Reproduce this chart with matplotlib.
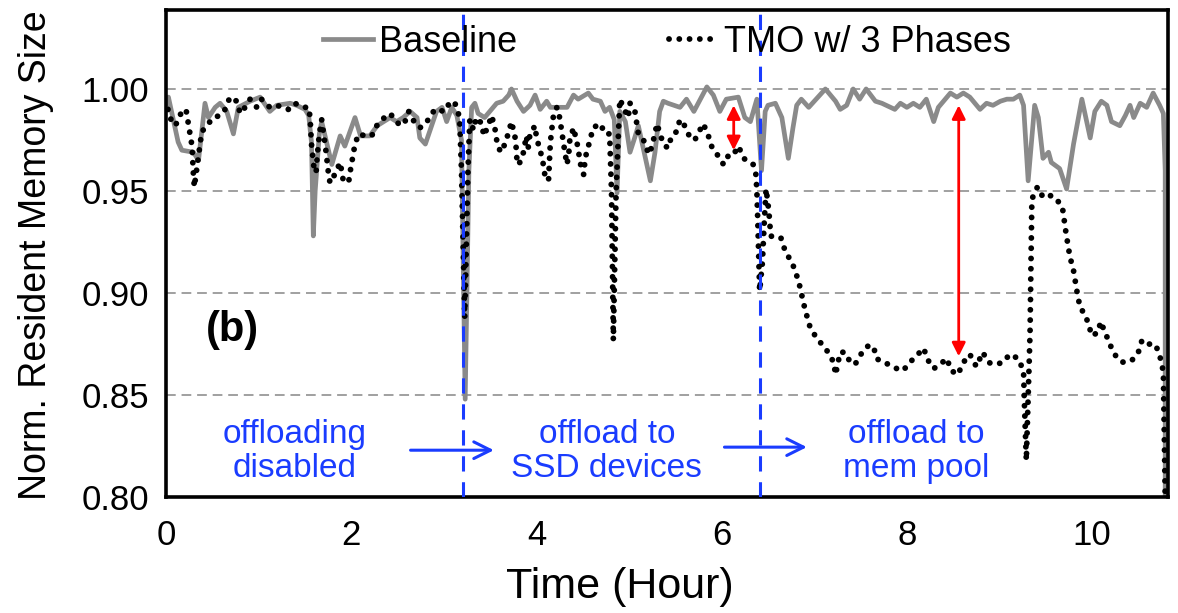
import matplotlib
matplotlib.use("Agg")
import matplotlib.pyplot as plt

plt.rcParams['font.family'] = ['Liberation Sans', 'DejaVu Sans']

# Baseline (gray solid line)
base_t = [0.0, 0.025, 0.13, 0.17, 0.295, 0.35, 0.42, 0.457, 0.53, 0.583, 0.655, 0.727, 0.78,
          0.907, 1.015, 1.12, 1.195, 1.34, 1.41, 1.50, 1.54, 1.57, 1.59, 1.61, 1.655, 1.68,
          1.79, 1.88, 1.93, 2.04, 2.10, 2.20, 2.28, 2.35, 2.42, 2.49, 2.56, 2.635, 2.71,
          2.74, 2.80, 2.92, 2.98, 3.03, 3.085, 3.14, 3.19, 3.23, 3.27, 3.30, 3.335, 3.37,
          3.44, 3.57, 3.64, 3.70, 3.73, 3.79, 3.86, 3.93, 3.985, 4.04, 4.11, 4.15, 4.33,
          4.40, 4.45, 4.56, 4.61, 4.69, 4.74, 4.79, 4.84, 4.87, 4.90, 4.96, 5.01, 5.06,
          5.10, 5.23, 5.28, 5.33, 5.37, 5.42, 5.55, 5.62, 5.70, 5.77, 5.84, 5.91, 5.98,
          6.05, 6.18, 6.25, 6.31, 6.38, 6.43, 6.47, 6.50, 6.58, 6.65, 6.72, 6.77, 6.81,
          6.86, 6.94, 7.06, 7.12, 7.23, 7.28, 7.35, 7.42, 7.49, 7.56, 7.66, 7.73, 7.87,
          7.93, 8.00, 8.07, 8.14, 8.21, 8.29, 8.34, 8.47, 8.54, 8.61, 8.68, 8.79, 8.86,
          8.93, 9.01, 9.08, 9.15, 9.22, 9.26, 9.31, 9.38, 9.42, 9.47, 9.53, 9.56, 9.65,
          9.725, 9.80, 9.89, 9.98, 10.03, 10.10, 10.16, 10.21, 10.30, 10.36, 10.41, 10.45,
          10.52, 10.59, 10.66, 10.73, 10.77, 10.79, 10.79]
base_y = [0.993, 0.996, 0.974, 0.970, 0.969, 0.965, 0.993, 0.986, 0.991, 0.993, 0.989, 0.978, 0.991,
          0.994, 0.996, 0.989, 0.992, 0.993, 0.992, 0.990, 0.987, 0.974, 0.928, 0.950, 0.978, 0.984,
          0.963, 0.977, 0.972, 0.986, 0.977, 0.977, 0.982, 0.984, 0.986, 0.984, 0.986, 0.989, 0.986,
          0.976, 0.973, 0.989, 0.991, 0.984, 0.991, 0.987, 0.975, 0.848, 0.960, 0.991, 0.993, 0.988,
          0.986, 0.993, 0.994, 0.997, 1.000, 0.994, 0.989, 0.992, 0.997, 0.990, 0.994, 0.991, 0.991,
          0.997, 0.995, 0.998, 0.995, 0.994, 0.989, 0.991, 0.985, 0.949, 0.989, 0.984, 0.969, 0.976,
          0.982, 0.955, 0.969, 0.989, 0.994, 0.993, 0.991, 0.995, 0.989, 0.995, 1.001, 0.997, 0.989,
          0.995, 0.996, 0.986, 0.984, 0.995, 0.960, 0.989, 0.992, 0.993, 0.986, 0.966, 0.981, 0.992,
          0.995, 0.991, 0.997, 1.000, 0.994, 0.990, 0.992, 1.000, 0.995, 1.000, 0.994, 0.993, 0.990,
          0.993, 0.991, 0.993, 0.991, 0.995, 0.984, 0.991, 0.998, 0.996, 0.998, 0.996, 0.990, 0.993,
          0.992, 0.994, 0.995, 0.995, 0.997, 0.992, 0.955, 0.992, 0.986, 0.966, 0.969, 0.964, 0.961,
          0.951, 0.973, 0.995, 0.976, 0.989, 0.994, 0.992, 0.984, 0.982, 0.987, 0.992, 0.986,
          0.993, 0.991, 0.998, 0.992, 0.988, 0.960, 0.800]

# TMO w/ 3 Phases (black dotted line)
tmo_t = [0.02, 0.04, 0.10, 0.17, 0.215, 0.24, 0.28, 0.295, 0.305, 0.35, 0.385, 0.457, 0.51, 0.583,
         0.637, 0.69, 0.763, 0.80, 0.853, 0.907, 0.98, 1.03, 1.12, 1.195, 1.32, 1.39, 1.48, 1.54,
         1.555, 1.57, 1.60, 1.62, 1.63, 1.655, 1.68, 1.72, 1.75, 1.77, 1.82, 1.88, 1.91, 1.97,
         1.99, 2.04, 2.08, 2.15, 2.22, 2.275, 2.33, 2.42, 2.47, 2.53, 2.58, 2.62, 2.69, 2.74,
         2.78, 2.85, 2.90, 3.01, 3.07, 3.12, 3.17, 3.19, 3.225, 3.26, 3.28, 3.32, 3.35, 3.41,
         3.43, 3.48, 3.515, 3.55, 3.57, 3.61, 3.66, 3.70, 3.73, 3.77, 3.785, 3.79, 3.82, 3.86,
         3.89, 3.91, 3.93, 3.985, 4.00, 4.04, 4.07, 4.09, 4.13, 4.15, 4.18, 4.22, 4.25, 4.27,
         4.29, 4.31, 4.33, 4.35, 4.36, 4.40, 4.42, 4.45, 4.47, 4.51, 4.52, 4.54, 4.58, 4.61,
         4.69, 4.74, 4.79, 4.81, 4.83, 4.86, 4.90, 4.94, 4.99, 5.01, 5.06, 5.08, 5.10, 5.17,
         5.21, 5.24, 5.28, 5.30, 5.37, 5.42, 5.46, 5.51, 5.55, 5.60, 5.66, 5.71, 5.80, 5.85,
         5.89, 5.95, 6.02, 6.08, 6.13, 6.18, 6.24, 6.29, 6.34, 6.37, 6.38, 6.39, 6.40, 6.41,
         6.44, 6.46, 6.48, 6.51, 6.53, 6.58, 6.64, 6.69, 6.76, 6.83, 6.86, 6.90, 6.95, 7.01,
         7.08, 7.15, 7.21, 7.23, 7.28, 7.33, 7.39, 7.44, 7.53, 7.58, 7.64, 7.67, 7.74, 7.81,
         7.89, 7.96, 8.03, 8.10, 8.18, 8.23, 8.29, 8.36, 8.43, 8.48, 8.55, 8.61, 8.68, 8.75,
         8.82, 8.88, 8.95, 9.04, 9.11, 9.20, 9.26, 9.27, 9.29, 9.33, 9.35, 9.41, 9.47, 9.53,
         9.60, 9.68, 9.72, 9.76, 9.80, 9.84, 9.87, 9.93, 10.00, 10.07, 10.09, 10.14, 10.19,
         10.27, 10.34, 10.43, 10.50, 10.54, 10.61, 10.68, 10.72, 10.75, 10.77, 10.79]
tmo_y = [0.990, 0.986, 0.982, 0.989, 0.990, 0.983, 0.972, 0.958, 0.952, 0.967, 0.979, 0.983, 0.986,
         0.987, 0.990, 0.996, 0.994, 0.988, 0.991, 0.995, 0.991, 0.995, 0.991, 0.992, 0.990, 0.993,
         0.991, 0.991, 0.986, 0.973, 0.960, 0.959, 0.966, 0.978, 0.985, 0.972, 0.960, 0.954, 0.958,
         0.964, 0.956, 0.954, 0.960, 0.973, 0.978, 0.977, 0.977, 0.982, 0.985, 0.988, 0.985, 0.982,
         0.984, 0.989, 0.983, 0.981, 0.982, 0.986, 0.990, 0.989, 0.994, 0.993, 0.986, 0.960, 0.888,
         0.960, 0.985, 0.980, 0.986, 0.983, 0.977, 0.982, 0.987, 0.981, 0.975, 0.969, 0.973, 0.979,
         0.984, 0.976, 0.969, 0.963, 0.964, 0.969, 0.977, 0.971, 0.978, 0.982, 0.976, 0.970, 0.964,
         0.958, 0.955, 0.974, 0.986, 0.991, 0.986, 0.980, 0.974, 0.968, 0.963, 0.969, 0.975, 0.981,
         0.977, 0.971, 0.964, 0.958, 0.963, 0.969, 0.975, 0.981, 0.983, 0.978, 0.978, 0.950, 0.877,
         0.950, 0.995, 0.991, 0.986, 0.993, 0.990, 0.984, 0.978, 0.974, 0.968, 0.971, 0.978, 0.983,
         0.973, 0.971, 0.977, 0.979, 0.985, 0.982, 0.976, 0.975, 0.983, 0.978, 0.972, 0.968, 0.963,
         0.968, 0.968, 0.972, 0.966, 0.964, 0.963, 0.958, 0.950, 0.935, 0.918, 0.901, 0.915, 0.935,
         0.951, 0.940, 0.928, 0.927, 0.927, 0.920, 0.915, 0.906, 0.900, 0.892, 0.884, 0.879, 0.875,
         0.871, 0.866, 0.860, 0.871, 0.871, 0.866, 0.865, 0.872, 0.874, 0.874, 0.868, 0.866, 0.865,
         0.863, 0.862, 0.866, 0.869, 0.873, 0.867, 0.863, 0.865, 0.868, 0.862, 0.860, 0.866, 0.870,
         0.864, 0.871, 0.866, 0.865, 0.866, 0.870, 0.868, 0.862, 0.845, 0.818, 0.880, 0.946, 0.952,
         0.947, 0.948, 0.947, 0.942, 0.929, 0.918, 0.911, 0.900, 0.893, 0.889, 0.879, 0.881, 0.886,
         0.881, 0.875, 0.868, 0.866, 0.867, 0.871, 0.877, 0.875, 0.875, 0.871, 0.866, 0.861, 0.800]

yticks = [0.80, 0.85, 0.90, 0.95, 1.00]
xticks = [0, 2, 4, 6, 8, 10]
phase_lines = [3.21, 6.415]
phase_labels = ["offloading\ndisabled", "offload to\nSSD devices", "offload to\nmem pool"]
phase_label_x = [1.39, 4.76, 8.10]

blue = '#1a3cff'

fig = plt.figure(figsize=(11.78, 6.13), dpi=100)
ax = fig.add_axes([0.141, 0.189, 0.8505, 0.7947])

for yv in yticks[1:]:
    ax.axhline(yv, color='#a0a0a0', lw=1.4, ls=(0, (5, 3)), zorder=0)

ax.plot(base_t, base_y, color='#8a8a8a', lw=3.4, solid_joinstyle='round', label='Baseline', zorder=2)
ax.plot(tmo_t, tmo_y, color='black', lw=4.2, ls=(0, (0.01, 1.75)), dash_capstyle='round',
        label='TMO w/ 3 Phases', zorder=3)

for xv in phase_lines:
    ax.axvline(xv, color=blue, lw=2.2, ls=(0, (5, 3.5)), zorder=4)

for xv, lab in zip(phase_label_x, phase_labels):
    ax.text(xv, 0.8223, lab, color=blue, fontsize=24, ha='center', va='center', linespacing=1.12)

ax.annotate('', xy=(3.57, 0.823), xytext=(2.61, 0.823),
            arrowprops=dict(arrowstyle='->', color=blue, lw=2.2, mutation_scale=30))
ax.annotate('', xy=(6.95, 0.8245), xytext=(6.0, 0.8245),
            arrowprops=dict(arrowstyle='->', color=blue, lw=2.2, mutation_scale=30))

ax.annotate('', xy=(6.13, 0.970), xytext=(6.13, 0.992),
            arrowprops=dict(arrowstyle='<|-|>', color='red', lw=2, mutation_scale=20, shrinkA=0, shrinkB=0))
ax.annotate('', xy=(8.56, 0.869), xytext=(8.56, 0.992),
            arrowprops=dict(arrowstyle='<|-|>', color='red', lw=2, mutation_scale=20, shrinkA=0, shrinkB=0))

ax.text(0.72, 0.882, '(b)', fontsize=30, fontweight='bold', ha='center', va='center')

ax.set_xlim(0, 10.82)
ax.set_ylim(0.80, 1.0387)
ax.set_xticks(xticks)
ax.set_yticks(yticks)
ax.set_yticklabels(['%.2f' % v for v in yticks])
ax.tick_params(length=0, labelsize=25)
ax.tick_params(axis='x', pad=16)
ax.tick_params(axis='y', pad=12)
for sp in ax.spines.values():
    sp.set_linewidth(2.6)

fig.text(620 / 1178, 1 - 587 / 613, 'Time (Hour)', fontsize=31, ha='center', va='center')
fig.text(36 / 1178, 1 - 255 / 613, 'Norm. Resident Memory Size', fontsize=27, rotation=90,
         ha='center', va='center')

ax.legend(loc='center', bbox_to_anchor=(0.5, 0.934), ncol=2, frameon=False, fontsize=26,
          handlelength=1.4, handletextpad=0.15, columnspacing=4.2)

fig.savefig('out.png', dpi=100)
